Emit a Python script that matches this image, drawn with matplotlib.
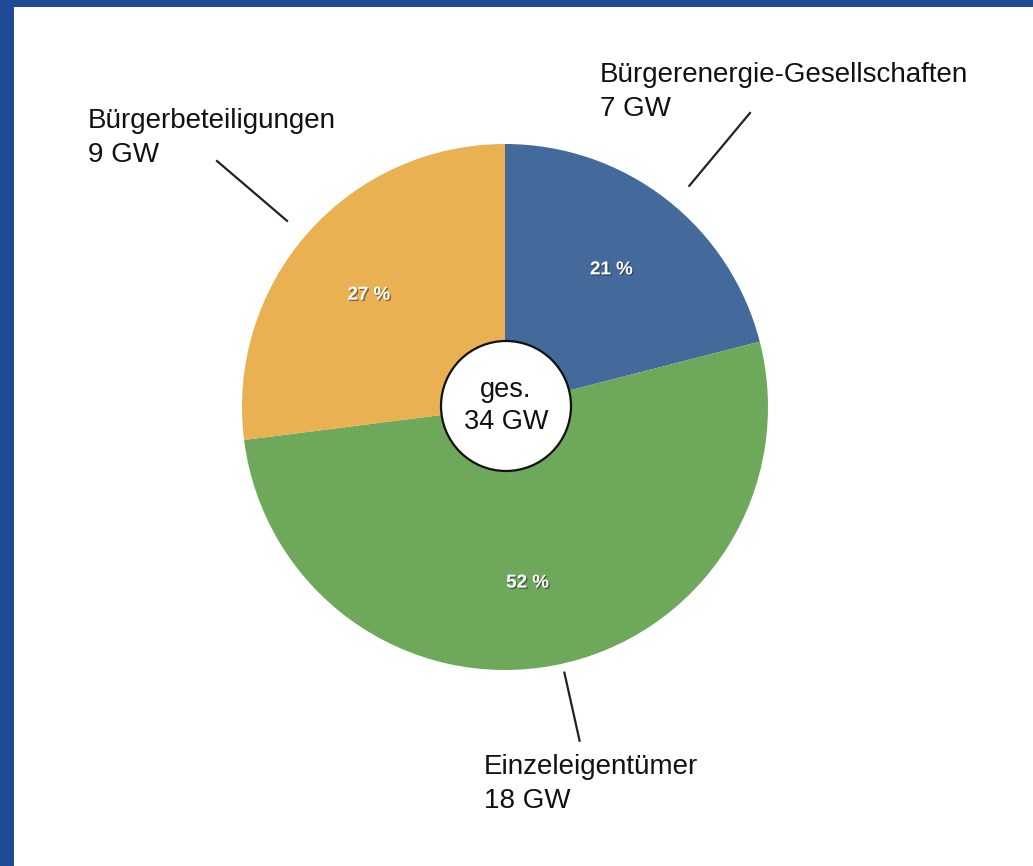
import numpy as np
import matplotlib.pyplot as plt
import matplotlib.patheffects as pe
from matplotlib.patches import Circle, Rectangle

# data
kategorien = ['Bürgerenergie-Gesellschaften', 'Einzeleigentümer', 'Bürgerbeteiligungen']
leistung_gw = [7, 18, 9]
anteile = [21, 52, 27]
gesamt_gw = 34
farben = ['#44699b', '#6da85b', '#e9b151']

plt.rcParams['font.family'] = ['Liberation Sans', 'DejaVu Sans']

W, H = 1033, 866
fig = plt.figure(figsize=(W / 100, H / 100), dpi=100)
fig.patch.set_facecolor('white')
ax = fig.add_axes([0, 0, 1, 1])

# blauer Rahmen oben und links
rahmen = '#1e4a96'
ax.add_patch(Rectangle((0, H - 7), W, 7, color=rahmen, lw=0))
ax.add_patch(Rectangle((0, 0), 14, H, color=rahmen, lw=0))

cx, cy, r = 505, H - 407, 263

wedges, _ = ax.pie(anteile, colors=farben, startangle=90, counterclock=False,
                   center=(cx, cy), radius=r, frame=True,
                   wedgeprops=dict(linewidth=0))
ax.set_xlim(0, W)
ax.set_ylim(0, H)
ax.set_aspect('equal')
ax.axis('off')

schatten = [pe.withSimplePatchShadow(offset=(1, -1), shadow_rgbFace='#333333', alpha=0.6)]

# Prozentwerte, Führungslinien, Beschriftungen
pct_r = [0.66, 0.675, 0.67]
pct_dw = [0.0, -3.5, 2.0]
linie_r = [(1.095, 1.455), (1.035, 1.30), (1.09, 1.44)]
linie_dw = [-2.0, 1.8, 0.9]
text_pos = [(600, 92), (484, 784), (88, 138)]

for i, w in enumerate(wedges):
    mitte = np.deg2rad((w.theta1 + w.theta2) / 2)
    b = mitte + np.deg2rad(pct_dw[i])
    px = cx + pct_r[i] * r * np.cos(b)
    py = cy + pct_r[i] * r * np.sin(b)
    ax.text(px, py, f'{anteile[i]} %', color='white', fontsize=13.5,
            fontweight='bold', ha='center', va='center', path_effects=schatten)

    a = mitte + np.deg2rad(linie_dw[i])
    r1, r2 = linie_r[i]
    ax.plot([cx + r1 * r * np.cos(a), cx + r2 * r * np.cos(a)],
            [cy + r1 * r * np.sin(a), cy + r2 * r * np.sin(a)],
            color='#222222', lw=1.6)

    tx, ty = text_pos[i]
    ax.text(tx, H - ty, f'{kategorien[i]}\n{leistung_gw[i]} GW', fontsize=20,
            ha='left', va='center', linespacing=1.4, color='#111111')

# Kreis in der Mitte
ax.add_patch(Circle((cx + 1, cy + 1), 65, facecolor='white', edgecolor='#111111', lw=1.6, zorder=5))
ax.text(cx + 1, cy + 1, f'ges.\n{gesamt_gw} GW', fontsize=19.5, ha='center', va='center',
        linespacing=1.3, color='#111111', zorder=6)

fig.savefig('out.png', dpi=100)
